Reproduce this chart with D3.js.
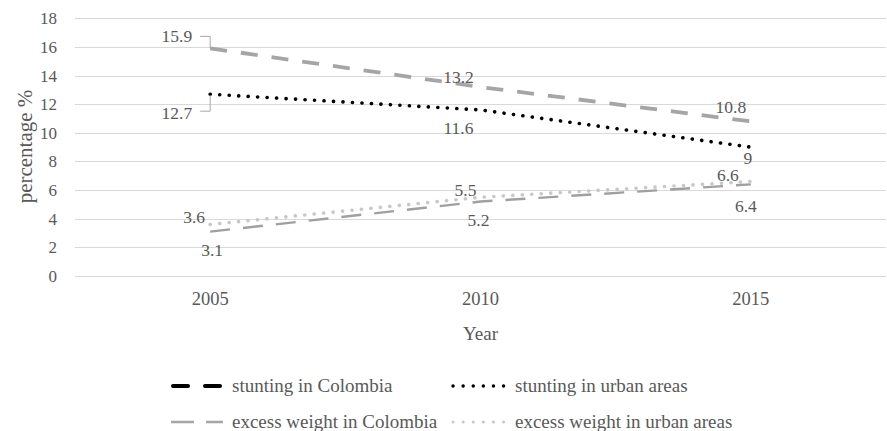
<!DOCTYPE html>
<html>
<head>
<meta charset="utf-8">
<script src="https://cdn.jsdelivr.net/npm/d3@7"></script>
<style>
  body { margin: 0; background: #fff; }
</style>
</head>
<body>
<svg id="chart" width="887" height="431"></svg>
<script>
// ---- data ----
const years = ["2005", "2010", "2015"];
const stuntingColombia = [15.9, 13.2, 10.8];
const stuntingUrban = [12.7, 11.6, 9];
const excessColombia = [3.1, 5.2, 6.4];
const excessUrban = [3.6, 5.5, 6.6];
const yTicks = [0, 2, 4, 6, 8, 10, 12, 14, 16, 18];
const seriesNames = [
  "stunting in Colombia",
  "stunting in urban areas",
  "excess weight in Colombia",
  "excess weight in urban areas"
];

// ---- styles ----
const FONT = "'Liberation Serif', 'Times New Roman', serif";
const TEXT_COLOR = "#595959";
const styles = [
  { stroke: "#A5A5A5", width: 3.8, dash: "17 14", cap: "butt",
    legendStroke: "#000", legendDash: "15 17", legendWidth: 4, legendCap: "round", legendInset: 2 },
  { stroke: "#000", width: 3.6, dash: "0.1 9.4", cap: "round",
    legendStroke: "#000", legendDash: "0.1 10", legendWidth: 3.4, legendCap: "round", legendInset: 1 },
  { stroke: "#A0A0A0", width: 2.4, dash: "20 13", cap: "butt",
    legendStroke: "#A5A5A5", legendDash: "23 12", legendWidth: 2.4, legendCap: "butt", legendInset: 0 },
  { stroke: "#C8C8C8", width: 3.6, dash: "0.1 9.4", cap: "round",
    legendStroke: "#C8C8C8", legendDash: "0.1 10", legendWidth: 3, legendCap: "round", legendInset: 1 }
];

// label placement relative to each point: [dx, dy, anchor]
const labelOffsets = [
  [[-18, -12, "end"], [-22, -10, "middle"], [-20, -14, "middle"]],
  [[-18, 19, "end"], [-22, 18, "middle"], [-3, 11, "middle"]],
  [[2, 18, "middle"], [-2, 18, "middle"], [-5, 22, "middle"]],
  [[-16, -7, "middle"], [-15, -7, "middle"], [-23, -7, "middle"]]
];

const allSeries = [stuntingColombia, stuntingUrban, excessColombia, excessUrban];

const svg = d3.select("#chart");
const plot = { left: 75, right: 886, top: 18.3, bottom: 276 };

function styleText(sel, size) {
  return sel.style("font-family", FONT)
    .style("font-size", size + "px")
    .style("fill", TEXT_COLOR);
}

const x = d3.scaleBand().domain(years).range([plot.left, plot.right]).padding(0);
const cx = d => x(d) + x.bandwidth() / 2;
const y = d3.scaleLinear().domain([0, 18]).range([plot.bottom, plot.top]);

// gridlines
svg.append("g")
  .selectAll("line")
  .data(yTicks)
  .join("line")
  .attr("x1", plot.left).attr("x2", plot.right)
  .attr("y1", d => Math.round(y(d)) + 0.5).attr("y2", d => Math.round(y(d)) + 0.5)
  .attr("stroke", "#D9D9D9").attr("stroke-width", 1);

// y axis labels
const yAxis = d3.axisLeft(y).tickValues(yTicks).tickSize(0).tickPadding(0);
const gy = svg.append("g").attr("transform", `translate(57,0)`).call(yAxis);
gy.select(".domain").remove();
styleText(gy.selectAll("text"), 17);

// x axis labels
const xAxis = d3.axisBottom(x).tickSize(0).tickPadding(0);
const gx = svg.append("g").attr("transform", `translate(0,${plot.bottom + 16})`).call(xAxis);
gx.select(".domain").remove();
styleText(gx.selectAll("text"), 18.5);

// axis titles
styleText(svg.append("text")
  .attr("transform", "translate(25,146.5) rotate(-90)")
  .attr("text-anchor", "middle").attr("dominant-baseline", "central"), 21)
  .text("percentage %");

styleText(svg.append("text")
  .attr("x", (plot.left + plot.right) / 2).attr("y", 333)
  .attr("text-anchor", "middle").attr("dominant-baseline", "central"), 19)
  .text("Year");

// lines
const line = d3.line().x((d, i) => cx(years[i])).y(d => y(d));
allSeries.forEach((vals, s) => {
  const st = styles[s];
  svg.append("path")
    .datum(vals)
    .attr("d", line)
    .attr("fill", "none")
    .attr("stroke", st.stroke)
    .attr("stroke-width", st.width)
    .attr("stroke-dasharray", st.dash)
    .attr("stroke-linecap", st.cap);
});

// leader lines for the 2005 stunting labels
[[0, -12], [1, 17]].forEach(([s, dy]) => {
  const px = cx(years[0]), py = y(allSeries[s][0]);
  const ly = py + dy;
  svg.append("path")
    .attr("d", `M${px - 10},${ly}H${px}V${py + (dy < 0 ? 0 : 1)}`)
    .attr("fill", "none").attr("stroke", "#A6A6A6").attr("stroke-width", 1);
});

// data labels
allSeries.forEach((vals, s) => {
  vals.forEach((v, i) => {
    const [dx, dy, anchor] = labelOffsets[s][i];
    styleText(svg.append("text")
      .attr("x", cx(years[i]) + dx)
      .attr("y", y(v) + dy)
      .attr("text-anchor", anchor)
      .attr("dominant-baseline", "central"), 17.5)
      .text(v);
  });
});

// legend
const legendPos = [
  { sx: 171, tx: 232, y: 385 },
  { sx: 452, tx: 515, y: 385 },
  { sx: 171, tx: 232, y: 421 },
  { sx: 452, tx: 515, y: 421 }
];
seriesNames.forEach((name, s) => {
  const p = legendPos[s], st = styles[s];
  svg.append("line")
    .attr("x1", p.sx + st.legendInset).attr("x2", p.sx + 52)
    .attr("y1", p.y + 1).attr("y2", p.y + 1)
    .attr("stroke", st.legendStroke)
    .attr("stroke-width", st.legendWidth)
    .attr("stroke-dasharray", st.legendDash)
    .attr("stroke-linecap", st.legendCap);
  styleText(svg.append("text")
    .attr("x", p.tx).attr("y", p.y)
    .attr("dominant-baseline", "central"), 19)
    .text(name);
});
</script>
</body>
</html>
